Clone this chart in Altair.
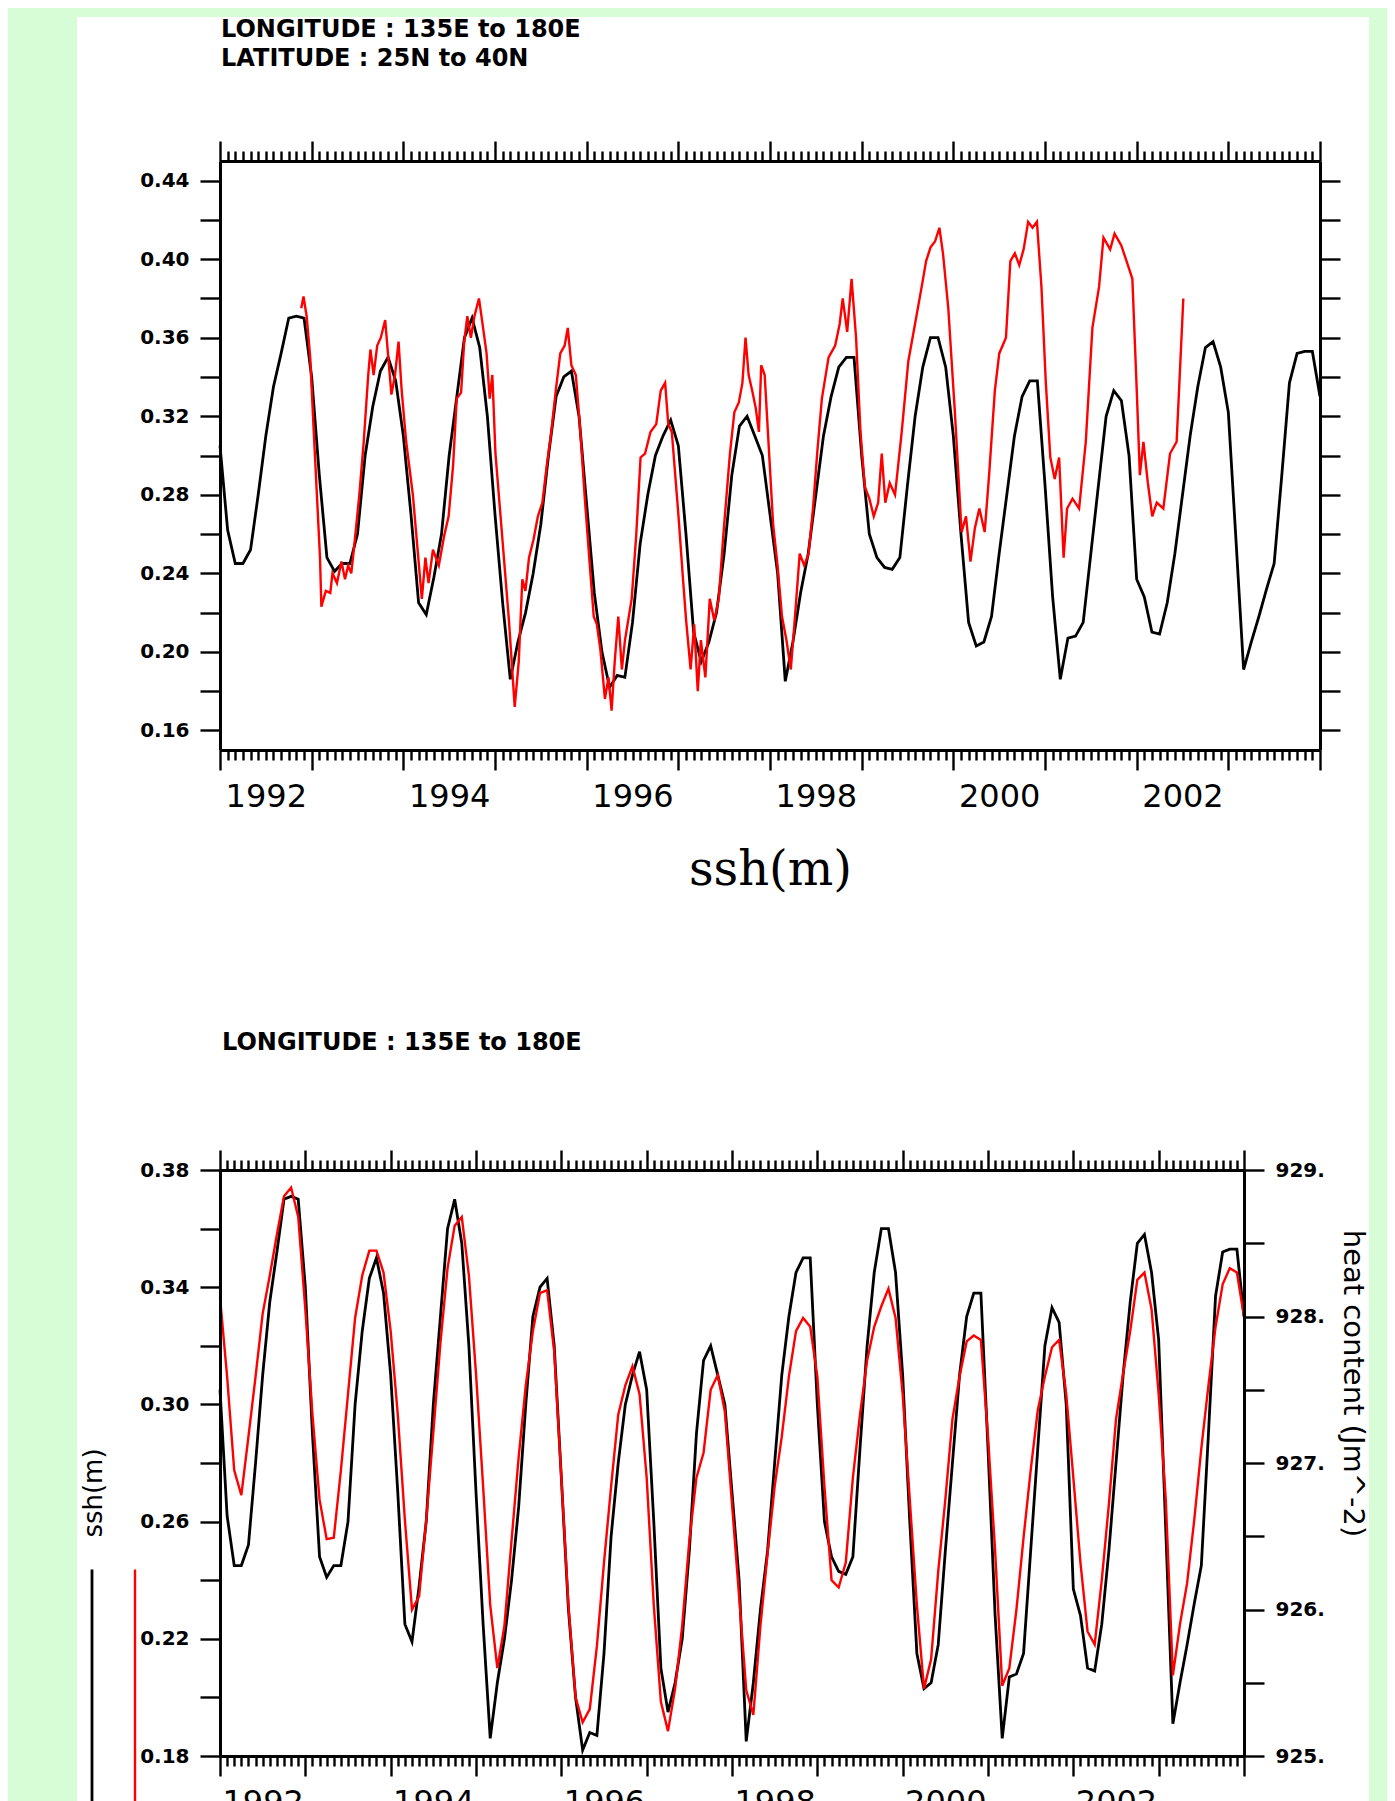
import altair as alt
import pandas as pd

# ---------------- data ----------------
years = list(range(1992, 2004))
# start of each month, Jan 1992 .. Jan 2004 (decimal years)
month_t = [round(y + m / 12.0, 5) for y in years for m in range(12)] + [2004.0]

# model sea surface height (m), monthly (black line, both panels)
ssh_model = [
    0.305, 0.262, 0.245, 0.245, 0.252, 0.280, 0.310, 0.335, 0.352, 0.370, 0.371, 0.370,  # 1992
    0.340, 0.290, 0.248, 0.241, 0.245, 0.245, 0.260, 0.300, 0.325, 0.343, 0.350, 0.338,  # 1993
    0.310, 0.270, 0.225, 0.219, 0.238, 0.260, 0.300, 0.330, 0.360, 0.370, 0.355, 0.320,  # 1994
    0.270, 0.225, 0.186, 0.205, 0.220, 0.240, 0.265, 0.300, 0.330, 0.340, 0.343, 0.320,  # 1995
    0.275, 0.230, 0.200, 0.182, 0.188, 0.187, 0.215, 0.255, 0.280, 0.300, 0.310, 0.318,  # 1996
    0.305, 0.260, 0.210, 0.195, 0.205, 0.220, 0.250, 0.290, 0.315, 0.320, 0.310, 0.300,  # 1997
    0.270, 0.240, 0.185, 0.205, 0.230, 0.250, 0.280, 0.310, 0.330, 0.345, 0.350, 0.350,  # 1998
    0.300, 0.260, 0.248, 0.243, 0.242, 0.248, 0.285, 0.320, 0.345, 0.360, 0.360, 0.345,  # 1999
    0.310, 0.260, 0.215, 0.203, 0.205, 0.218, 0.250, 0.280, 0.310, 0.330, 0.338, 0.338,  # 2000
    0.285, 0.228, 0.186, 0.207, 0.208, 0.215, 0.250, 0.285, 0.320, 0.333, 0.328, 0.300,  # 2001
    0.237, 0.228, 0.210, 0.209, 0.225, 0.250, 0.280, 0.310, 0.335, 0.355, 0.358, 0.345,  # 2002
    0.322, 0.257, 0.191, 0.205, 0.218, 0.232, 0.245, 0.290, 0.337, 0.352, 0.353, 0.353,  # 2003
    0.330,                                                                                # 2004
]

# heat content (J m^-2), monthly (red line, lower panel, right axis)
heat_content = [
    928.13, 927.59, 926.95, 926.78, 927.18, 927.59, 928.02, 928.28, 928.56, 928.82, 928.88, 928.68,  # 1992
    928.05, 927.33, 926.75, 926.48, 926.49, 926.95, 927.47, 927.99, 928.28, 928.45, 928.45, 928.30,  # 1993
    927.90, 927.33, 926.61, 926.00, 926.09, 926.61, 927.21, 927.82, 928.33, 928.62, 928.68, 928.28,  # 1994
    927.61, 926.84, 926.03, 925.60, 925.89, 926.47, 927.04, 927.53, 927.90, 928.16, 928.18, 927.76,  # 1995
    926.90, 926.03, 925.40, 925.23, 925.32, 925.75, 926.32, 926.84, 927.33, 927.53, 927.66, 927.47,  # 1996
    926.90, 926.03, 925.37, 925.17, 925.46, 925.89, 926.47, 926.90, 927.07, 927.50, 927.60, 927.35,  # 1997
    926.72, 926.09, 925.45, 925.28, 925.89, 926.38, 926.84, 927.18, 927.59, 927.90, 927.99, 927.93,  # 1998
    927.59, 926.84, 926.20, 926.15, 926.32, 926.90, 927.33, 927.70, 927.93, 928.07, 928.19, 927.99,  # 1999
    927.47, 926.75, 926.03, 925.46, 925.66, 926.26, 926.75, 927.30, 927.59, 927.83, 927.87, 927.84,  # 2000
    927.18, 926.40, 925.48, 925.60, 926.00, 926.49, 926.95, 927.36, 927.59, 927.79, 927.84, 927.47,  # 2001
    926.90, 926.32, 925.85, 925.76, 926.20, 926.72, 927.30, 927.61, 927.90, 928.25, 928.30, 928.05,  # 2002
    927.47, 926.75, 925.55, 925.90, 926.18, 926.61, 927.10, 927.53, 927.93, 928.22, 928.33, 928.30,  # 2003
    928.00,                                                                                          # 2004
]

# observed (altimetry) ssh, red line of the upper panel: (decimal year, m)
obs_points = [
    (1992.886, 0.375), (1992.911, 0.381), (1992.945, 0.371), (1992.984, 0.350), (1993.023, 0.312),
    (1993.057, 0.280), (1993.091, 0.248), (1993.106, 0.223), (1993.154, 0.231), (1993.203, 0.230),
    (1993.227, 0.240), (1993.276, 0.235), (1993.325, 0.246), (1993.364, 0.237), (1993.398, 0.244),
    (1993.432, 0.240), (1993.471, 0.257), (1993.520, 0.280), (1993.568, 0.307), (1993.617, 0.341),
    (1993.641, 0.354), (1993.676, 0.341), (1993.715, 0.356), (1993.754, 0.360), (1993.802, 0.369),
    (1993.836, 0.350), (1993.870, 0.331), (1993.909, 0.341), (1993.948, 0.358), (1993.982, 0.333),
    (1994.031, 0.307), (1994.104, 0.280), (1994.163, 0.248), (1994.202, 0.227), (1994.241, 0.248),
    (1994.275, 0.235), (1994.323, 0.252), (1994.387, 0.244), (1994.445, 0.259), (1994.494, 0.269),
    (1994.543, 0.295), (1994.582, 0.329), (1994.630, 0.332), (1994.664, 0.358), (1994.698, 0.371),
    (1994.737, 0.360), (1994.776, 0.371), (1994.825, 0.380), (1994.864, 0.367), (1994.908, 0.352),
    (1994.942, 0.329), (1994.971, 0.341), (1995.005, 0.301), (1995.078, 0.259), (1995.152, 0.216),
    (1995.215, 0.172), (1995.259, 0.195), (1995.298, 0.237), (1995.332, 0.231), (1995.371, 0.248),
    (1995.419, 0.257), (1995.468, 0.269), (1995.517, 0.276), (1995.565, 0.295), (1995.614, 0.312),
    (1995.663, 0.333), (1995.712, 0.352), (1995.760, 0.356), (1995.794, 0.365), (1995.833, 0.346),
    (1995.882, 0.341), (1995.931, 0.312), (1995.980, 0.278), (1996.028, 0.248), (1996.077, 0.218),
    (1996.111, 0.214), (1996.150, 0.201), (1996.199, 0.176), (1996.238, 0.187), (1996.272, 0.170),
    (1996.306, 0.195), (1996.345, 0.218), (1996.384, 0.191), (1996.418, 0.206), (1996.491, 0.227),
    (1996.540, 0.259), (1996.588, 0.299), (1996.637, 0.301), (1996.696, 0.312), (1996.759, 0.316),
    (1996.808, 0.333), (1996.856, 0.337), (1996.890, 0.316), (1996.929, 0.312), (1997.002, 0.269),
    (1997.051, 0.237), (1997.085, 0.216), (1997.134, 0.191), (1997.173, 0.214), (1997.212, 0.180),
    (1997.246, 0.206), (1997.295, 0.187), (1997.343, 0.227), (1997.392, 0.216), (1997.441, 0.227),
    (1997.490, 0.259), (1997.563, 0.301), (1997.611, 0.322), (1997.660, 0.327), (1997.699, 0.337),
    (1997.733, 0.360), (1997.767, 0.341), (1997.806, 0.333), (1997.845, 0.324), (1997.879, 0.312),
    (1997.904, 0.346), (1997.942, 0.341), (1997.977, 0.312), (1998.034, 0.265), (1998.082, 0.244),
    (1998.131, 0.218), (1998.179, 0.206), (1998.227, 0.191), (1998.276, 0.220), (1998.324, 0.250),
    (1998.373, 0.244), (1998.421, 0.250), (1998.469, 0.273), (1998.518, 0.303), (1998.566, 0.329),
    (1998.639, 0.350), (1998.711, 0.356), (1998.760, 0.367), (1998.793, 0.380), (1998.842, 0.363),
    (1998.890, 0.390), (1998.939, 0.360), (1998.987, 0.312), (1999.035, 0.284), (1999.084, 0.278),
    (1999.132, 0.269), (1999.180, 0.276), (1999.219, 0.301), (1999.258, 0.276), (1999.306, 0.286),
    (1999.364, 0.280), (1999.437, 0.312), (1999.509, 0.348), (1999.582, 0.367), (1999.655, 0.386),
    (1999.703, 0.399), (1999.751, 0.406), (1999.800, 0.409), (1999.848, 0.416), (1999.887, 0.403),
    (1999.945, 0.375), (2000.017, 0.322), (2000.090, 0.261), (2000.138, 0.269), (2000.187, 0.246),
    (2000.235, 0.263), (2000.284, 0.273), (2000.342, 0.261), (2000.390, 0.290), (2000.453, 0.333),
    (2000.501, 0.352), (2000.574, 0.360), (2000.622, 0.399), (2000.671, 0.403), (2000.719, 0.397),
    (2000.767, 0.405), (2000.816, 0.419), (2000.864, 0.416), (2000.912, 0.419), (2000.961, 0.386),
    (2001.009, 0.337), (2001.058, 0.299), (2001.106, 0.288), (2001.154, 0.299), (2001.203, 0.248),
    (2001.241, 0.273), (2001.300, 0.278), (2001.372, 0.273), (2001.445, 0.307), (2001.517, 0.365),
    (2001.590, 0.386), (2001.638, 0.411), (2001.711, 0.405), (2001.759, 0.413), (2001.832, 0.407),
    (2001.904, 0.397), (2001.953, 0.390), (2002.001, 0.333), (2002.035, 0.290), (2002.074, 0.307),
    (2002.122, 0.286), (2002.170, 0.269), (2002.219, 0.276), (2002.291, 0.273), (2002.364, 0.301),
    (2002.436, 0.307), (2002.509, 0.380),
]

# axis tick values / labels
ssh_ticks_top = [0.16, 0.18, 0.20, 0.22, 0.24, 0.26, 0.28, 0.30, 0.32, 0.34, 0.36, 0.38, 0.40, 0.42, 0.44]
ssh_ticks_bottom = [0.18, 0.20, 0.22, 0.24, 0.26, 0.28, 0.30, 0.32, 0.34, 0.36, 0.38]
heat_ticks = [925.0, 925.5, 926.0, 926.5, 927.0, 927.5, 928.0, 928.5, 929.0]
top_title_lines = ["LONGITUDE : 135E to 180E", "LATITUDE : 25N to 40N"]
bottom_title = "LONGITUDE : 135E to 180E"

df_model = pd.DataFrame({"t": month_t, "ssh": ssh_model})
df_heat = pd.DataFrame({"t": month_t, "heat": heat_content})
df_obs = pd.DataFrame(obs_points, columns=["t", "ssh"])
one = pd.DataFrame({"k": [0]})

# ---------------- styling helpers ----------------
MAJOR = "abs(datum.value - round(datum.value)) < 0.001"
X_TICK = {"condition": {"test": MAJOR, "value": 20}, "value": 10}
YEAR_LABEL = ("(" + MAJOR + ") && round(datum.value) % 2 == 0 && round(datum.value) < 2004"
              " ? '' + round(datum.value) : ''")
SSH_LABEL_TOP = "round(datum.value * 100) % 4 == 0 ? format(datum.value, '.2f') : ''"
SSH_LABEL_BOT = "(round(datum.value * 100) - 18) % 4 == 0 ? format(datum.value, '.2f') : ''"
HEAT_LABEL = "datum.value % 1 == 0 ? format(datum.value, 'd') + '.' : ''"

BASE = dict(grid=False, domain=True, domainColor="black", domainWidth=3,
            ticks=True, tickColor="black", tickWidth=2.4, labelColor="black",
            titleColor="black", zindex=1)

XSCALE = alt.Scale(domain=[1992, 2004], nice=False, zero=False)


def x_axis_bottom(half_year_px, **kw):
    return alt.Axis(orient="bottom", values=month_t, tickSize=X_TICK, labelExpr=YEAR_LABEL,
                    labelFont="DejaVu Sans", labelFontSize=32, labelPadding=11,
                    labelOffset=half_year_px, labelOverlap=False, labelFlush=False,
                    labelBound=False, **kw, **BASE)


def x_axis_top():
    return alt.Axis(orient="top", values=month_t, tickSize=X_TICK, labels=False,
                    title=None, **BASE)


def y_axis(orient, values, expr=None, **kw):
    if expr is None:
        return alt.Axis(orient=orient, values=values, tickSize=20, labels=False, **kw, **BASE)
    return alt.Axis(orient=orient, values=values, tickSize=20, labelExpr=expr,
                    labelFont="DejaVu Sans", labelFontWeight="bold", labelFontSize=20,
                    labelPadding=11, labelOverlap=False, labelBound=False, labelFlush=False,
                    **kw, **BASE)


def text_layer(s, x, y):
    return alt.Chart(pd.DataFrame({"s": [s]})).mark_text(
        align="left", baseline="alphabetic", font="DejaVu Sans", fontSize=24,
        fontWeight="bold", color="black").encode(text="s:N", x=alt.value(x), y=alt.value(y))


# ---------------- upper panel ----------------
TOP_W, TOP_H = 1100, 589
top_scale_y = alt.Scale(domain=[0.15, 0.45], nice=False, zero=False)

backdrop = alt.Chart(one).mark_rect(color="white").encode(
    x=alt.value(-143), x2=alt.value(1149), y=alt.value(-144), y2=alt.value(1680.5))

top_black = alt.Chart(df_model).mark_line(color="black", strokeWidth=2.8).encode(
    x=alt.X("t:Q", scale=XSCALE,
            axis=x_axis_bottom(TOP_W / 24.0, title="ssh(m)", titleFont="DejaVu Serif",
                               titleFontSize=48, titleFontWeight="normal",
                               titleY=134.5, titleBaseline="alphabetic")),
    y=alt.Y("ssh:Q", scale=top_scale_y,
            axis=y_axis("left", ssh_ticks_top, SSH_LABEL_TOP, title=None)),
)
top_red = alt.Chart(df_obs).mark_line(color="#ff0000", strokeWidth=2.4).encode(
    x=alt.X("t:Q", scale=XSCALE, axis=x_axis_top()),
    y=alt.Y("ssh:Q", scale=top_scale_y, axis=y_axis("right", ssh_ticks_top, title=None)),
)

top = alt.layer(
    backdrop,
    text_layer(top_title_lines[0], 1, -124),
    text_layer(top_title_lines[1], 1, -95.5),
    top_black,
    top_red,
).resolve_scale(x="independent", y="independent").properties(width=TOP_W, height=TOP_H)

# ---------------- lower panel ----------------
BOT_W, BOT_H = 1024, 586

legend_black = alt.Chart(one).mark_rule(color="black", strokeWidth=2.8).encode(
    x=alt.value(-128), y=alt.value(399.5), y2=alt.value(660))
legend_red = alt.Chart(one).mark_rule(color="#ff0000", strokeWidth=2.4).encode(
    x=alt.value(-85), y=alt.value(399.5), y2=alt.value(660))

bot_black = alt.Chart(df_model).mark_line(color="black", strokeWidth=2.8).encode(
    x=alt.X("t:Q", scale=XSCALE, axis=x_axis_bottom(BOT_W / 24.0, title=None)),
    y=alt.Y("ssh:Q", scale=alt.Scale(domain=[0.18, 0.38], nice=False, zero=False),
            axis=y_axis("left", ssh_ticks_bottom, SSH_LABEL_BOT, title="ssh(m)",
                        titleFont="DejaVu Sans", titleFontSize=26, titleFontWeight="normal",
                        titleAngle=270, titleX=-127, titleY=322.5,
                        titleAlign="center", titleBaseline="middle")),
)
bot_red = alt.Chart(df_heat).mark_line(color="#ff0000", strokeWidth=2.4).encode(
    x=alt.X("t:Q", scale=XSCALE, axis=x_axis_top()),
    y=alt.Y("heat:Q", scale=alt.Scale(domain=[925, 929], nice=False, zero=False),
            axis=y_axis("right", heat_ticks, HEAT_LABEL, title="heat content (Jm^-2)",
                        titleFont="DejaVu Sans", titleFontSize=29, titleFontWeight="normal",
                        titleAngle=90, titleX=108, titleY=213,
                        titleAlign="center", titleBaseline="middle")),
)

bottom = alt.layer(
    legend_black,
    legend_red,
    text_layer(bottom_title, 2, -120.5),
    bot_black,
    bot_red,
).resolve_scale(x="independent", y="independent").properties(width=BOT_W, height=BOT_H)

chart = alt.vconcat(top, bottom, spacing=420, bounds="flush").resolve_scale(
    x="independent", y="independent"
).properties(
    background="#d6fdd6",
    padding={"left": 69, "top": 9, "right": 18, "bottom": 0},
).configure_view(strokeOpacity=0)

chart.save("out.html", embed_options={"renderer": "svg", "actions": False})
